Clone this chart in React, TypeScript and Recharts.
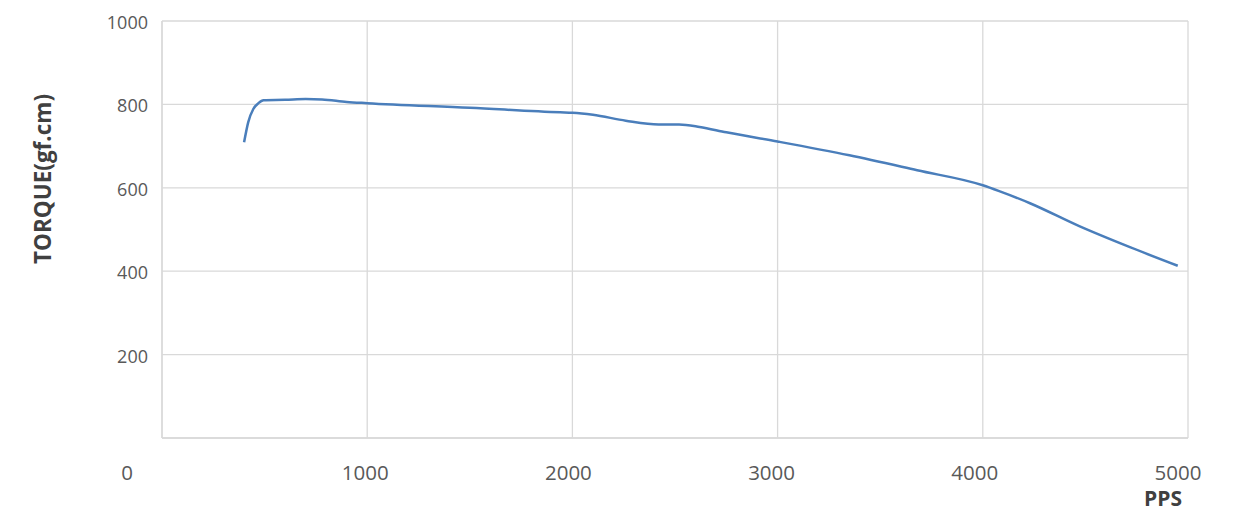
import { LineChart, Line, XAxis, YAxis, CartesianGrid } from 'recharts';

const pps = [400, 420, 445, 470, 495, 600, 700, 780, 900, 1000, 1500, 1940, 2000, 2100, 2260, 2420, 2520, 2620, 2750, 3000, 3350, 3680, 4000, 4080, 4230, 4470, 4720, 4950];
const torque = [709, 757, 789, 803, 810, 811, 813, 812, 806, 803, 792, 781, 780, 775, 761, 752, 752, 746, 733, 711, 678, 642, 606, 592, 563, 508, 457, 413];
const xTicks = [0, 1000, 2000, 3000, 4000, 5000];
const yTicks = [0, 200, 400, 600, 800, 1000];

const chartData = pps.map((p, i) => ({ pps: p, torque: torque[i] }));

const FONT = '"Open Sans", "Noto Sans", sans-serif';

function XTick(props: any) {
  const { x, y, payload } = props;
  const v = payload.value;
  const shift = v === 0 ? -35 : -v / 500;
  return (
    <text x={x + shift} y={y} dy={17} textAnchor="middle" fill="#595959" fontSize={20.5} fontFamily={FONT}>
      {v}
    </text>
  );
}

function YTick(props: any) {
  const { x, y, payload } = props;
  if (payload.value === 0) return null;
  return (
    <text x={x} y={y} dy={8} textAnchor="end" fill="#595959" fontSize={18} fontFamily={FONT}>
      {payload.value}
    </text>
  );
}

function YTitle() {
  return (
    <text x={51} y={179} transform="rotate(-90 51 179)" textAnchor="middle" fill="#404040" fontSize={22.5} fontWeight="bold" fontFamily={FONT}>
      TORQUE(gf.cm)
    </text>
  );
}

function XTitle() {
  return (
    <text x={1163} y={506} textAnchor="middle" fill="#404040" fontSize={21} fontWeight="bold" fontFamily={FONT}>
      PPS
    </text>
  );
}

export default function App() {
  return (
    <div style={{ position: 'absolute', left: 0, top: 0, background: '#fff' }}>
      <LineChart width={1242} height={513} data={chartData} margin={{ top: 21, right: 54, left: 0, bottom: 0 }}>
        <CartesianGrid stroke="#d9d9d9" strokeWidth={1.3} />
        <XAxis
          dataKey="pps"
          type="number"
          domain={[0, 5000]}
          ticks={xTicks}
          height={75}
          stroke="#d9d9d9"
          strokeWidth={1.3}
          tickLine={false}
          tickSize={0}
          tickMargin={25}
          tick={<XTick />}
          interval={0}
        />
        <YAxis
          type="number"
          domain={[0, 1000]}
          ticks={yTicks}
          width={162}
          stroke="#d9d9d9"
          strokeWidth={1.3}
          tickLine={false}
          tickSize={0}
          tickMargin={14}
          tick={<YTick />}
          interval={0}
        />
        <Line
          type="monotone"
          dataKey="torque"
          stroke="#4a7ebb"
          strokeWidth={2.5}
          dot={false}
          isAnimationActive={false}
        />
        <YTitle />
        <XTitle />
      </LineChart>
    </div>
  );
}
